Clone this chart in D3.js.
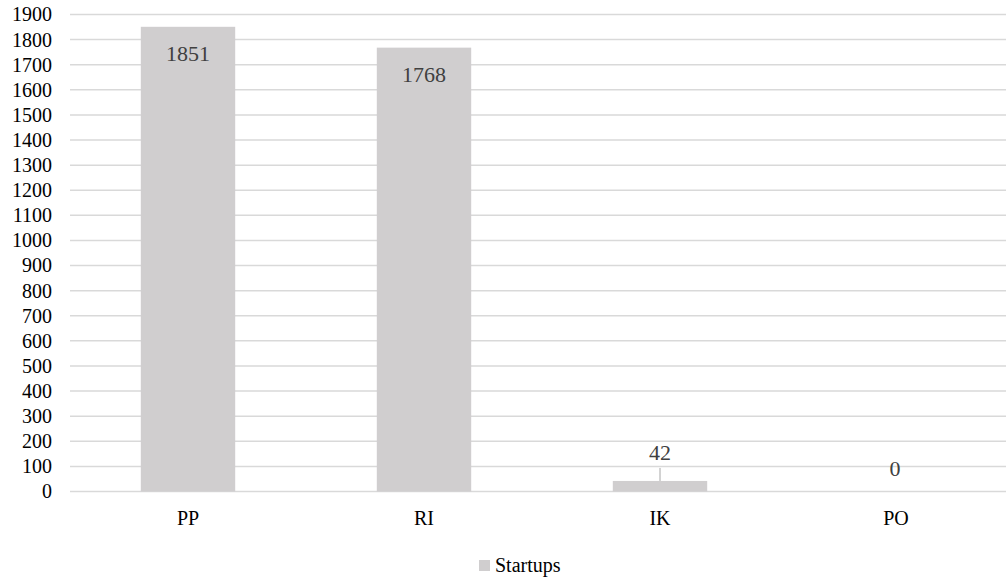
<!DOCTYPE html>
<html><head><meta charset="utf-8">
<script src="https://cdn.jsdelivr.net/npm/d3@7"></script>
<style>body{margin:0;background:#fff}svg{display:block}
svg text{font-family:"Liberation Serif","Times New Roman",serif;}</style>
</head><body>
<svg id="c" width="1006" height="581"></svg>
<script>
const categories = ["PP", "RI", "IK", "PO"];
const startups = [1851, 1768, 42, 0];
const yTicks = [0,100,200,300,400,500,600,700,800,900,1000,1100,1200,1300,1400,1500,1600,1700,1800,1900];
const seriesName = "Startups";

(function(){
const svg = d3.select("#c");
const mLeft = 70, mRight = 1014, mTop = 14.5, mBottom = 491.5;
const x = d3.scaleBand().domain(categories).range([mLeft, mRight]).paddingInner(0.6).paddingOuter(0.3);
const y = d3.scaleLinear().domain([0, 1900]).range([mBottom, mTop]);

svg.append("g").selectAll("line").data(yTicks).join("line")
  .attr("x1", mLeft).attr("x2", 1006)
  .attr("y1", d => y(d)).attr("y2", d => y(d))
  .attr("stroke", "#d9d9d9").attr("stroke-width", 1.5);

const ya = svg.append("g").attr("transform", `translate(${mLeft},0)`)
  .call(d3.axisLeft(y).tickValues(yTicks).tickSize(0).tickPadding(18).tickFormat(d3.format("d")));
ya.attr("font-family", null);
ya.select(".domain").remove();
ya.selectAll("text").attr("font-size", 20).attr("fill", "#000");

svg.append("g").selectAll("rect").data(startups).join("rect")
  .attr("x", (d,i) => x(categories[i])).attr("width", x.bandwidth())
  .attr("y", d => y(d)).attr("height", d => y(0) - y(d))
  .attr("fill", "#d0cecf");

const xa = svg.append("g").attr("transform", `translate(0,${mBottom})`)
  .call(d3.axisBottom(x).tickSize(0).tickPadding(19));
xa.attr("font-family", null);
xa.select(".domain").remove();
xa.selectAll("text").attr("font-size", 20).attr("fill", "#000");

const lab = svg.append("g").attr("font-size", 22).attr("fill", "#404040").attr("text-anchor", "middle");
startups.forEach((v, i) => {
  const cx = x(categories[i]) + x.bandwidth()/2;
  if (v > 200) {
    lab.append("text").attr("x", cx).attr("y", y(v) + 34).text(v);
  } else if (v > 0) {
    lab.append("text").attr("x", cx).attr("y", y(v) - 21).text(v);
    svg.append("line").attr("x1", cx).attr("x2", cx).attr("y1", y(v) - 13).attr("y2", y(v))
      .attr("stroke", "#a6a6a6").attr("stroke-width", 1);
  } else {
    lab.append("text").attr("x", cx - 1).attr("y", y(v) - 15.5).text(v);
  }
});

const lg = svg.append("g");
lg.append("rect").attr("x", 479).attr("y", 560).attr("width", 11).attr("height", 11).attr("fill", "#d0cecf");
lg.append("text").attr("x", 495).attr("y", 572).attr("font-size", 20).attr("fill", "#000").text(seriesName);
})();
</script>
</body></html>
